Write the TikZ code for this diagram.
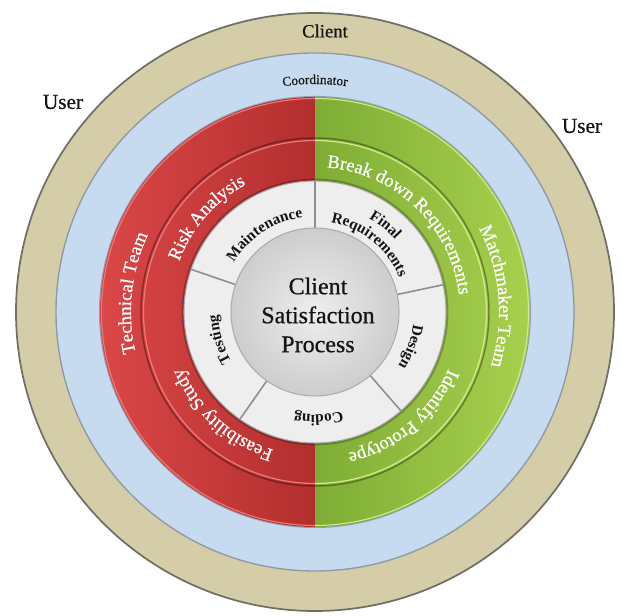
\documentclass[tikz,border=0pt]{standalone}
\usepackage{fontspec}
\setmainfont{Liberation Serif}
\newfontfamily\heavyserif{Liberation Serif}[FakeBold=0.6]
\usetikzlibrary{decorations.text}
\definecolor{tanc}{HTML}{D5CDA8}
\definecolor{tanedge}{HTML}{6F6F66}
\definecolor{bluec}{HTML}{C6DAF0}
\definecolor{blueedge}{HTML}{8E99A3}
\definecolor{redL}{HTML}{DA4747}
\definecolor{redD}{HTML}{B32E2E}
\definecolor{redHi}{HTML}{EE7A7A}
\definecolor{greenD}{HTML}{7EAD35}
\definecolor{greenL}{HTML}{A8D04E}
\definecolor{greenHi}{HTML}{D2EC8A}
\definecolor{segc}{HTML}{EEEEEE}
\definecolor{sepc}{HTML}{8F8F8F}
\definecolor{hubL}{HTML}{EEEEEE}
\definecolor{hubD}{HTML}{CDCDCD}
\definecolor{inkc}{HTML}{141414}
\newcommand\ringtxt{\heavyserif\fontsize{14}{16}\selectfont}
\newcommand\segtxt{\fontsize{11.5}{13}\selectfont\bfseries}
\newcommand\coordtxt{\heavyserif\fontsize{10}{12}\selectfont}
\tikzset{
  whitearc/.style={decorate, decoration={text along path, text align=center, text color=white, text={#1}}},
  blackarc/.style={decorate, decoration={text along path, text align=center, text color=inkc, text={#1}}},
  plainlabel/.style={inner sep=0pt, text=inkc},
}
\begin{document}
\begin{tikzpicture}[x=0.75pt,y=0.75pt]
\useasboundingbox (0,0) rectangle (622,616);
\fill[white] (0,0) rectangle (622,616);
\coordinate (C) at (315,304);
% outer rings
\filldraw[fill=tanc, draw=tanedge, line width=1.3] (C) circle[radius=299];
\filldraw[fill=bluec, draw=blueedge, line width=1] (C) circle[radius=259];
% red and green halves
\shade[left color=redL, right color=redD] (C) ++(90:215) arc[start angle=90,end angle=270,radius=215] -- cycle;
\shade[left color=greenD, right color=greenL] (C) ++(-90:215) arc[start angle=-90,end angle=90,radius=215] -- cycle;
\draw[redHi, line width=0.8] (C) ++(90:213.5) arc[start angle=90,end angle=270,radius=213.5];
\draw[greenHi, line width=0.8] (C) ++(-90:213.5) arc[start angle=-90,end angle=90,radius=213.5];
\draw[black, opacity=0.25, line width=0.8] (C) circle[radius=215.5];
% inner ring boundary
\draw[black, opacity=0.35, line width=1.1] (C) circle[radius=174];
\draw[redHi, line width=0.9] (C) ++(90:171.5) arc[start angle=90,end angle=270,radius=171.5];
\draw[greenHi, line width=0.9] (C) ++(-90:171.5) arc[start angle=-90,end angle=90,radius=171.5];
% segment ring
\draw[black, opacity=0.25, line width=2] (C) circle[radius=132];
\filldraw[fill=segc, draw=gray!70, line width=0.8] (C) circle[radius=131];
\foreach \a in {90,161,235,311,12}
  \draw[sepc, line width=1.2] (C) ++(\a:84) -- ++(\a:47);
% hub
\shadedraw[inner color=hubL, outer color=hubD, draw=gray!65, line width=0.8] (C) circle[radius=84];
% centre text
\node[plainlabel, name=hub, align=center, font=\heavyserif\fontsize{18}{21.75}\selectfont] at (318,301) {Client\\Satisfaction\\Process};
% straight labels
\node[plainlabel, name=client, font=\heavyserif\fontsize{14}{16}\selectfont] at (325,585) {Client};
\node[plainlabel, name=userL, font=\heavyserif\fontsize{16}{18}\selectfont] at (63,514) {User};
\node[plainlabel, name=userR, font=\heavyserif\fontsize{16}{18}\selectfont] at (582,490) {User};
% curved labels
\path[blackarc={|\coordtxt|Coordinator}] (C) ++(130:228) arc[start angle=130, end angle=50, radius=228];
\path[whitearc={|\ringtxt|Technical Team}] (C) ++(254:184) arc[start angle=254, end angle=94, radius=184];
\path[whitearc={|\ringtxt|Matchmaker Team}] (C) ++(85:184) arc[start angle=85, end angle=-75, radius=184];
\path[whitearc={|\ringtxt|Risk Analysis}] (C) ++(209:145) arc[start angle=209, end angle=69, radius=145];
\path[whitearc={|\ringtxt|Break down Requirements}] (C) ++(131:145) arc[start angle=131, end angle=-39, radius=145];
\path[whitearc={|\ringtxt|Feasibility Study}] (C) ++(298:144) arc[start angle=298, end angle=158, radius=144];
\path[whitearc={|\ringtxt|Identify Prototype}] (C) ++(380:145) arc[start angle=380, end angle=240, radius=145];
\path[blackarc={|\segtxt|Maintenance}] (C) ++(183:95) arc[start angle=183, end angle=63, radius=95];
\path[blackarc={|\segtxt|Final}] (C) ++(101:108) arc[start angle=101, end angle=1, radius=108];
\path[blackarc={|\segtxt|Requirements}] (C) ++(121:91) arc[start angle=121, end angle=-19, radius=91];
\path[blackarc={|\segtxt|Design}] (C) ++(390:99) arc[start angle=390, end angle=290, radius=99];
\path[blackarc={|\segtxt|Coding}] (C) ++(322:103) arc[start angle=322, end angle=222, radius=103];
\path[blackarc={|\segtxt|Testing}] (C) ++(246:97) arc[start angle=246, end angle=146, radius=97];
\end{tikzpicture}
\end{document}
